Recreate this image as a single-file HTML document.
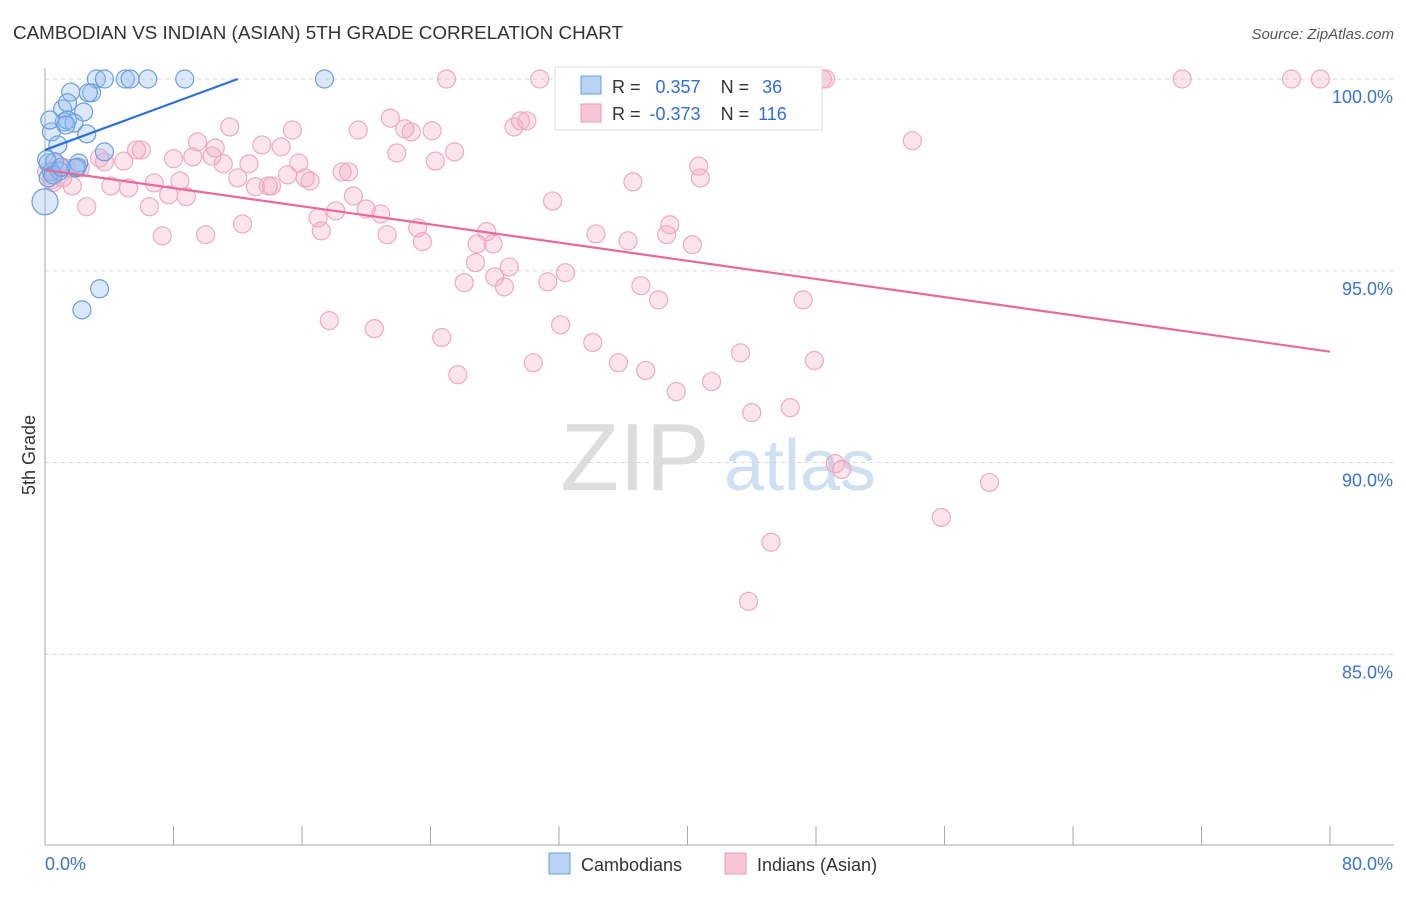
<!DOCTYPE html>
<html><head><meta charset="utf-8"><style>
body{margin:0;background:#fff;font-family:"Liberation Sans",sans-serif;}
svg text{font-family:"Liberation Sans",sans-serif;}
</style></head><body>
<svg id="chart" width="1406" height="892">
<text x="13" y="39" font-size="18" fill="#333" textLength="610" lengthAdjust="spacingAndGlyphs">CAMBODIAN VS INDIAN (ASIAN) 5TH GRADE CORRELATION CHART</text>
<text x="1394" y="39" font-size="15" fill="#555" font-style="italic" text-anchor="end">Source: ZipAtlas.com</text>
<text x="35" y="455" font-size="18" fill="#333" transform="rotate(-90 35 455)" text-anchor="middle">5th Grade</text>
<g><text x="635" y="490" font-size="96" fill="#ddd" font-family="Liberation Serif" text-anchor="middle">ZIP</text><text x="800" y="490" font-size="72" fill="#cfe0f3" text-anchor="middle">atlas</text></g>
<g id="grid"></g><g id="axes"></g><g id="pts"></g><g id="lines"></g>
<g>
<rect x="555" y="67" width="267" height="63" fill="#fff" stroke="#ddd"/>
<rect x="581" y="76" width="20" height="18" fill="#b9d3f5" stroke="#6a9ee0"/>
<rect x="581" y="104" width="20" height="18" fill="#f8c5d5" stroke="#e89ab5"/>
<text x="612" y="93" font-size="18" fill="#333">R = <tspan fill="#2f6fd6" dx="10">0.357</tspan><tspan dx="20" fill="#333">N = </tspan><tspan dx="8" fill="#2f6fd6">36</tspan></text>
<text x="612" y="120" font-size="18" fill="#333">R = <tspan fill="#2f6fd6" dx="4">-0.373</tspan><tspan dx="20" fill="#333">N = </tspan><tspan dx="4" fill="#2f6fd6">116</tspan></text>
</g>
<g>
<rect x="549" y="853" width="21" height="21" fill="#b9d3f5" stroke="#6a9ee0"/>
<text x="581" y="871" font-size="18" fill="#333">Cambodians</text>
<rect x="725" y="853" width="21" height="21" fill="#f8c5d5" stroke="#e89ab5"/>
<text x="757" y="871" font-size="18" fill="#333">Indians (Asian)</text>
</g>
</svg>
<script>
const yTicks=[100,95,90,85];
const xTickLabels=["0.0%","80.0%"];
const blueX=[3.2,5.0,5.3,6.4,8.7,17.4,3.7,1.6,2.9,2.7,1.1,1.4,2.4,1.2,1.4,1.8,2.6,0.4,0.8,3.7,0.2,0.6,2.1,1.9,0.4,0.2,0,3.4,2.3,0.3,1.3,2.0,0.9,0.5,1.0,0.1];
const blueY=[100,100,100,100,100,100,100,99.66,99.64,99.64,99.22,99.38,99.14,98.88,98.93,98.85,98.57,98.62,98.28,98.1,97.81,97.84,97.81,97.68,97.58,97.42,96.8,94.53,93.98,98.93,98.8,97.7,97.6,97.5,97.7,97.9];
const pinkX=[0.1,0.4,0.8,1.1,1.3,1.7,2.2,2.6,3.4,3.7,4.1,4.9,5.2,5.7,6.0,6.5,6.8,7.3,7.7,8.0,8.4,8.8,9.5,9.2,10.0,10.4,10.6,11.1,11.5,12.0,12.3,12.7,13.1,13.5,13.9,14.1,14.7,15.1,15.4,15.8,16.2,16.5,17.0,17.2,17.7,18.1,18.5,18.9,19.2,19.5,20.0,20.5,20.9,21.3,21.5,21.9,22.4,22.8,23.2,23.5,24.1,24.3,24.7,25.0,25.5,25.7,26.1,26.8,26.9,27.5,28.0,27.9,28.6,28.9,29.2,29.6,30.0,30.4,30.8,31.3,31.6,32.1,32.4,34.1,34.3,35.7,36.3,36.6,37.1,37.4,38.2,38.7,38.9,39.3,40.3,40.7,40.8,41.5,43.3,44.0,45.2,43.8,46.4,47.2,47.9,48.6,48.4,49.2,49.6,54.0,55.8,58.8,70.8,77.6,79.4,0.5];
const pinkY=[97.58,97.37,97.76,97.42,97.68,97.21,97.68,96.67,97.94,97.84,97.21,97.86,97.16,98.15,98.15,96.67,97.29,95.91,96.98,97.92,97.34,96.93,98.36,97.97,95.94,97.99,98.2,97.79,98.75,97.42,96.22,97.79,97.19,98.28,97.21,97.21,98.23,97.5,98.67,97.81,97.42,97.34,96.38,96.04,93.7,96.56,97.58,97.58,96.95,98.67,96.61,93.49,96.48,95.94,98.98,98.07,98.7,98.62,96.12,95.76,98.65,97.86,93.26,100,98.1,92.29,94.69,95.21,95.7,96.02,94.84,95.7,94.58,95.1,98.75,98.91,98.91,92.6,100,94.71,96.82,93.59,94.95,93.13,95.96,92.6,95.78,97.32,94.61,92.4,94.24,95.94,96.2,91.85,95.68,97.73,97.42,92.11,92.86,91.3,87.92,86.38,91.43,94.24,92.66,100,100,89.97,89.82,98.39,88.57,89.48,100,100,100,97.3];
const blueTrend=[[0,98.15],[12.0,100]];
const pinkTrend=[[0,97.63],[80,92.89]];
const NS="http://www.w3.org/2000/svg";
const xs=v=>45+v/80*1285;
const ys=v=>79+(100-v)*38.35;
function mk(tag,attrs,parent){const e=document.createElementNS(NS,tag);for(const k in attrs)e.setAttribute(k,attrs[k]);parent.appendChild(e);return e;}
const grid=document.getElementById('grid'),axes=document.getElementById('axes'),pts=document.getElementById('pts'),lines=document.getElementById('lines');
yTicks.forEach(t=>{
 const l=mk('line',{x1:45,x2:1394,y1:ys(t),y2:ys(t),stroke:'#d8d8d8','stroke-dasharray':'4 4'},grid);
 
 
 const tx=mk('text',{x:1393,y:ys(t)+24,'font-size':18,fill:'#3a74d0','text-anchor':'end'},axes);
 tx.textContent=t.toFixed(1)+'%';
 
 
});
mk('line',{x1:45,x2:45,y1:68,y2:845,stroke:'#aaa'},axes);
mk('line',{x1:45,x2:1394,y1:845,y2:845,stroke:'#aaa'},axes);
for(let i=0;i<=10;i++){const t=mk('line',{x1:xs(i*8),x2:xs(i*8),y1:826,y2:845,stroke:'#aaa'},axes);
 
 }
[[0,'start',45],[80,'end',1393]].forEach((d,i)=>{const t=mk('text',{x:d[2],y:870,'font-size':18,fill:'#3a74d0','text-anchor':d[1]},axes);t.textContent=xTickLabels[i];
 
 });
pinkX.forEach((x,i)=>{const c=mk('circle',{cx:xs(x),cy:ys(pinkY[i]),r:9,fill:'rgba(243,165,192,0.3)',stroke:'#eeaac2','stroke-width':1.2},pts);
 
 });
blueX.forEach((x,i)=>{const c=mk('circle',{cx:xs(x),cy:ys(blueY[i]),r:(blueY[i]===96.8?13:9),fill:'rgba(150,190,240,0.35)',stroke:'#6c9ede','stroke-width':1.2},pts);
 
 });
const bl=mk('line',{x1:xs(blueTrend[0][0]),y1:ys(blueTrend[0][1]),x2:xs(blueTrend[1][0]),y2:ys(blueTrend[1][1]),stroke:'#2b6fd6','stroke-width':2.2},lines);


const pl=mk('line',{x1:xs(pinkTrend[0][0]),y1:ys(pinkTrend[0][1]),x2:xs(pinkTrend[1][0]),y2:ys(pinkTrend[1][1]),stroke:'#e8699a','stroke-width':2.2},lines);


</script>
</body></html>
